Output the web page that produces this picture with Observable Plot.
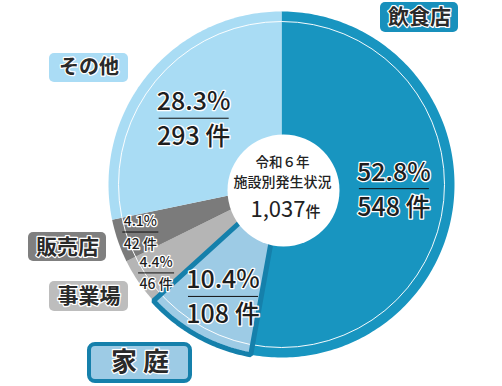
<!DOCTYPE html>
<html><head><meta charset="utf-8">
<script src="https://cdn.jsdelivr.net/npm/d3@7"></script>
<script src="https://cdn.jsdelivr.net/npm/@observablehq/plot@0.6"></script>
<style>body{margin:0;background:#fff} svg{display:block}</style>
</head><body><div id="chart"></div>
<script>
// ---- data ----
const categories = ["飲食店","家庭","事業場","販売店","その他"];
const counts = [548,108,46,42,293];
const percentLabels = ["52.8%","10.4%","4.4%","4.1%","28.3%"];
const countLabels = ["548 件","108 件","46 件","42 件","293 件"];
const tagTexts = ["飲食店","家 庭","事業場","販売店","その他"];
const centerLines = ["令和６年","施設別発生状況"];
const totalLabel = "1,037";
const totalUnit = "件";

// ---- styles / layout ----
const sliceColors = ["#1895c0","#9dcbe5","#b5b5b5","#7b7b7b","#a9dcf4"];
const tagFills = ["#1890bc","#9dcbe5","#bdbdbd","#7f7f7f","#aadcf5"];
const W = 502, H = 386, R = 173, CX = 281, CY = 184;
const labelRadius = [0.65, 0.73, 0.887, 0.861, 0.636];
const labelNudgeDeg = [-3, -1.4, -0.9, 0.4, -2.1];
const labelBig = [true, true, false, false, true];
// tag boxes in pixels [x1,x2,y1,y2]
const tagBoxes = [[380,458,2,32],[89,190,344,381],[49,128,281,311],[28,106,232,261],[49,128,53,82]];
const tagSize = [21, 26, 21, 21, 20];

const px = v => (v - CX) / R;
const py = v => (CY - v) / R;
const font = "'Noto Sans CJK JP', 'Noto Sans', sans-serif";

const rows = categories.map((c, i) => ({category: c, count: counts[i], i}));
const arcs = d3.pie().sort(null).value(d => d.count).startAngle(0).endAngle(2 * Math.PI)(rows);

// slice polygons
const polys = [];
arcs.forEach(a => {
  const n = Math.max(2, Math.ceil((a.endAngle - a.startAngle) / (Math.PI / 180)));
  polys.push({category: a.data.category, x: 0, y: 0});
  for (let k = 0; k <= n; k++) {
    const t = a.startAngle + (a.endAngle - a.startAngle) * k / n;
    polys.push({category: a.data.category, x: Math.sin(t), y: Math.cos(t)});
  }
});
const homePoly = polys.filter(d => d.category === "家庭");

// labels
const labels = arcs.map(a => {
  const i = a.data.i;
  const m = (a.startAngle + a.endAngle) / 2 + labelNudgeDeg[i] * Math.PI / 180;
  const r = labelRadius[i];
  const x = r * Math.sin(m), y = r * Math.cos(m);
  const big = labelBig[i];
  const half = (big ? 35 : 18) / R;
  return {
    x, y, x1: x - half, x2: x + half,
    pctY: y + (big ? 16 : 10.5) / R,
    cntY: y - (big ? 19 : 12) / R,
    pct: percentLabels[i], cnt: countLabels[i],
    size: big ? 25 : 14
  };
});

const tags = tagTexts.map((t, i) => {
  const [x1, x2, y1, y2] = tagBoxes[i];
  return {t, x1: px(x1), x2: px(x2), y1: py(y2), y2: py(y1),
    cx: px((x1 + x2) / 2), cy: py((y1 + y2) / 2), fill: tagFills[i], size: tagSize[i], i};
});

const hole = {x: px(283), y: py(190)};

const chart = Plot.plot({
  width: W, height: H, margin: 0,
  x: {domain: [px(0), px(W)], range: [0, W], axis: null},
  y: {domain: [py(H), py(0)], range: [H, 0], axis: null},
  color: {domain: categories, range: sliceColors},
  style: {fontFamily: font, background: "white", overflow: "visible"},
  marks: [
    Plot.line(polys, {x: "x", y: "y", z: "category", fill: "category", stroke: "none", curve: "linear-closed"}),
    Plot.dot([{x: 0, y: 0}], {x: "x", y: "y", r: 163, fill: "none", stroke: "white", strokeWidth: 1, strokeOpacity: 0.95}),
    Plot.line(homePoly, {x: "x", y: "y", fill: "none", stroke: "#1580ab", strokeWidth: 5, strokeLinejoin: "miter", curve: "linear-closed"}),
    Plot.dot([hole], {x: "x", y: "y", r: 56, fill: "white", stroke: "none"}),
    Plot.link(labels, {x1: "x1", x2: "x2", y1: "y", y2: "y", stroke: "#111", strokeWidth: 1}),
    Plot.text(labels, {x: "x", y: "pctY", text: "pct", fontSize: "size", fill: "#1e1e1e", stroke: "white", strokeWidth: 2.5, fontWeight: 500, textAnchor: "middle", lineAnchor: "middle"}),
    Plot.text(labels, {x: "x", y: "cntY", text: "cnt", fontSize: "size", fill: "#1e1e1e", stroke: "white", strokeWidth: 2.5, fontWeight: 500, textAnchor: "middle", lineAnchor: "middle"}),
    Plot.text([centerLines[0]], {x: () => px(282), y: () => py(162.5), text: d => d, fontSize: 13.5, fill: "#222", textAnchor: "middle", lineAnchor: "middle", fontWeight: 500}),
    Plot.text([centerLines[1]], {x: () => px(282), y: () => py(182), text: d => d, fontSize: 14, fill: "#222", textAnchor: "middle", lineAnchor: "middle", fontWeight: 500}),
    Plot.text([totalLabel], {x: () => px(305), y: () => py(209.5), text: d => d, fontSize: 22, fill: "#222", textAnchor: "end", lineAnchor: "middle"}),
    Plot.text([totalUnit], {x: () => px(305), y: () => py(212), text: d => d, fontSize: 15, fill: "#222", textAnchor: "start", lineAnchor: "middle", fontWeight: 500}),
    Plot.rect(tags.filter(d => d.i !== 1), {x1: "x1", x2: "x2", y1: "y1", y2: "y2", fill: "fill", rx: 5}),
    Plot.rect(tags.filter(d => d.i === 1), {x1: "x1", x2: "x2", y1: "y1", y2: "y2", fill: "fill", stroke: "#1580ab", strokeWidth: 4, rx: 6}),
    Plot.text(tags, {x: "cx", y: "cy", text: "t", fontSize: "size", fill: "#2a2a2a", stroke: "white", strokeWidth: 2.5, fontWeight: 700, textAnchor: "middle", lineAnchor: "middle"})
  ]
});
document.getElementById("chart").appendChild(chart);
</script>
</body></html>
